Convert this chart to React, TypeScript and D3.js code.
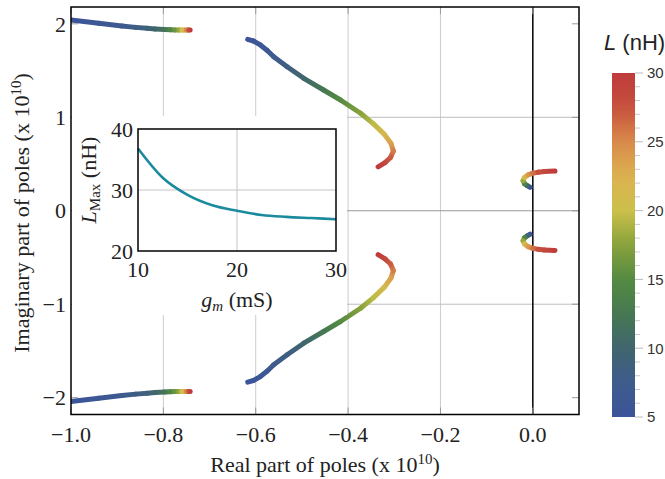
import React from 'react';
import * as d3 from 'd3';

// ---------- data ----------
const xTicks = [-1.0, -0.8, -0.6, -0.4, -0.2, 0.0];
const yTicks = [-2, -1, 0, 1, 2];
const xGrid = [-0.8, -0.6, -0.4, -0.2];
const yGrid = [-1, 1];
const cbTicks = [5, 10, 15, 20, 25, 30];
const cbMinor = [6, 7, 8, 9, 11, 12, 13, 14, 16, 17, 18, 19, 21, 22, 23, 24, 26, 27, 28, 29];

// pole loci in the upper half-plane: [Re, Im, L(nH)]; lower half = conjugates
const farBranch: [number, number, number][] = [
  [-1.0, 2.04, 5], [-0.94, 2.005, 6], [-0.89, 1.977, 7], [-0.86, 1.962, 8],
  [-0.835, 1.952, 9], [-0.818, 1.945, 10], [-0.797, 1.939, 12], [-0.785, 1.936, 14],
  [-0.775, 1.935, 16], [-0.766, 1.934, 18], [-0.76, 1.934, 20], [-0.755, 1.934, 22],
  [-0.75, 1.934, 25], [-0.745, 1.934, 28], [-0.742, 1.934, 30],
];
const midBranch: [number, number, number][] = [
  [-0.6174, 1.834, 5], [-0.605, 1.816, 5.5], [-0.59, 1.774, 6], [-0.575, 1.715, 6.6],
  [-0.561, 1.648, 7.2], [-0.532, 1.541, 8.4], [-0.496, 1.417, 10], [-0.453, 1.292, 12.5],
  [-0.4165, 1.185, 15], [-0.373, 1.043, 17.5], [-0.345, 0.93, 19.5], [-0.322, 0.82, 21.5],
  [-0.307, 0.72, 23.5], [-0.302, 0.64, 25.5], [-0.308, 0.57, 27], [-0.32, 0.515, 28.5],
  [-0.335, 0.47, 30],
];
const nearBranch: [number, number, number][] = [
  [-0.006, 0.251, 5], [-0.012, 0.268, 10], [-0.018, 0.29, 14], [-0.021, 0.322, 18],
  [-0.018, 0.355, 21], [-0.01, 0.385, 24], [0.0, 0.402, 26], [0.012, 0.413, 27.5],
  [0.025, 0.42, 28.5], [0.048, 0.424, 30],
];

// inset: L_Max vs g_m
const gmValues = [10, 12.5, 15, 17.5, 20, 22.5, 25, 27.5, 30];
const lMaxValues = [36.8, 32.0, 29.2, 27.5, 26.6, 25.9, 25.6, 25.4, 25.2];
const insetXTicks = [10, 20, 30];
const insetYTicks = [20, 30, 40];

// colour map (L -> colour)
const cStopL = [5, 7.5, 10, 12.5, 15, 17.5, 20, 22.5, 25, 27.5, 30];
const cStopC = ['#3c549a', '#3e5b8c', '#40666e', '#467852', '#548a42', '#88a23c',
  '#cbc04a', '#dcb250', '#d88a4a', '#c6503e', '#bf3b3b'];

// ---------- scales ----------
const xs = d3.scaleLinear().domain([-1, 0.1]).range([71, 579]);
const ys = d3.scaleLinear().domain([-2.18, 2.18]).range([414.5, 7]);
const ix = d3.scaleLinear().domain([10, 30]).range([138, 336]);
const iy = d3.scaleLinear().domain([20, 40]).range([251, 129]);
const cb = d3.scaleLinear().domain([5, 30]).range([417, 73]);
const color = d3.scaleLinear<string>().domain(cStopL).range(cStopC).interpolate(d3.interpolateRgb);

const SERIF = '"Liberation Serif", "Times New Roman", serif';
const SANS = '"Liberation Sans", Arial, sans-serif';
const FS = 22;
const fmt = (v: number) => (v < 0 ? '\u2212' : '') + Math.abs(v).toFixed(1);
const fmtI = (v: number) => (v < 0 ? '\u2212' : '') + Math.abs(v).toString();

function Branch({ pts, id, sign }: { pts: [number, number, number][]; id: string; sign: number }) {
  return (
    <g>
      {pts.slice(1).map((p, i) => {
        const a = pts[i];
        const x1 = xs(a[0]), y1 = ys(sign * a[1]), x2 = xs(p[0]), y2 = ys(sign * p[1]);
        const gid = `${id}-${i}`;
        return (
          <g key={i}>
            <linearGradient id={gid} gradientUnits="userSpaceOnUse" x1={x1} y1={y1} x2={x2} y2={y2}>
              <stop offset="0" stopColor={color(a[2])} />
              <stop offset="1" stopColor={color(p[2])} />
            </linearGradient>
            <line x1={x1} y1={y1} x2={x2} y2={y2} stroke={`url(#${gid})`} strokeWidth={5} strokeLinecap="round" />
          </g>
        );
      })}
    </g>
  );
}

export default function App() {
  const [x0, x1] = xs.range();
  const [y0, y1] = ys.range();
  const insetLine = d3.line<number>().x((_, i) => ix(gmValues[i])).y((d) => iy(d)).curve(d3.curveMonotoneX)(lMaxValues) || '';
  const cbStops = d3.range(0, 26).map((k) => 5 + k);

  return (
    <svg width={665} height={479} style={{ position: 'absolute', left: 0, top: 0, background: '#fff' }}>
      <defs>
        <clipPath id="plotClip">
          <rect x={x0} y={y1} width={x1 - x0} height={y0 - y1} />
        </clipPath>
        <linearGradient id="cbGrad" x1="0" y1="1" x2="0" y2="0">
          {cbStops.map((v) => (
            <stop key={v} offset={(v - 5) / 25} stopColor={color(v)} />
          ))}
        </linearGradient>
      </defs>
      <rect x={0} y={0} width={665} height={479} fill="#fff" />

      {/* grid */}
      {xGrid.map((v) => (
        <line key={'gx' + v} x1={xs(v)} x2={xs(v)} y1={y1} y2={y0} stroke="#cccccc" strokeWidth={1} />
      ))}
      {yGrid.map((v) => (
        <line key={'gy' + v} x1={x0} x2={x1} y1={ys(v)} y2={ys(v)} stroke="#bdbdbd" strokeWidth={1} />
      ))}
      <line x1={x0} x2={x1} y1={ys(0)} y2={ys(0)} stroke="#999" strokeWidth={1} />
      <line x1={xs(0)} x2={xs(0)} y1={y1} y2={y0} stroke="#000" strokeWidth={1.5} />

      {/* ticks on frame */}
      {xTicks.map((v) => (
        <g key={'tx' + v}>
          <line x1={xs(v)} x2={xs(v)} y1={y0} y2={y0 - 7} stroke="#999" />
          <line x1={xs(v)} x2={xs(v)} y1={y1} y2={y1 + 7} stroke="#999" />
        </g>
      ))}
      {yTicks.map((v) => (
        <g key={'ty' + v}>
          <line x1={x0} x2={x0 + 7} y1={ys(v)} y2={ys(v)} stroke="#999" />
          <line x1={x1} x2={x1 - 7} y1={ys(v)} y2={ys(v)} stroke="#999" />
        </g>
      ))}

      {/* pole loci */}
      <g clipPath="url(#plotClip)">
        <Branch pts={farBranch} id="fu" sign={1} />
        <Branch pts={farBranch} id="fl" sign={-1} />
        <Branch pts={midBranch} id="mu" sign={1} />
        <Branch pts={midBranch} id="ml" sign={-1} />
        <Branch pts={nearBranch} id="nu" sign={1} />
        <Branch pts={nearBranch} id="nl" sign={-1} />
      </g>

      {/* frame */}
      <rect x={x0} y={y1} width={x1 - x0} height={y0 - y1} fill="none" stroke="#000" strokeWidth={1.5} />

      {/* main tick labels */}
      {xTicks.map((v) => (
        <text key={'lx' + v} x={xs(v)} y={442} textAnchor="middle" fontFamily={SERIF} fontSize={FS} fill="#222">
          {fmt(v)}
        </text>
      ))}
      {yTicks.map((v) => (
        <text key={'ly' + v} x={66} y={ys(v)} dy="0.35em" textAnchor="end" fontFamily={SERIF} fontSize={FS} fill="#222">
          {fmtI(v)}
        </text>
      ))}
      <text x={325} y={472} textAnchor="middle" fontFamily={SERIF} fontSize={FS} fill="#222">
        Real part of poles (x 10<tspan dy={-8} fontSize={15}>10</tspan><tspan dy={8}>)</tspan>
      </text>
      <text transform={`translate(29,213) rotate(-90)`} textAnchor="middle" fontFamily={SERIF} fontSize={FS} fill="#222">
        Imaginary part of poles (x 10<tspan dy={-8} fontSize={15}>10</tspan><tspan dy={8}>)</tspan>
      </text>

      {/* inset */}
      <rect x={72} y={116} width={275} height={199} fill="#fff" />
      <line x1={ix(20)} x2={ix(20)} y1={iy(40)} y2={iy(20)} stroke="#c4c4c4" strokeWidth={1} />
      <line x1={ix(10)} x2={ix(30)} y1={iy(30)} y2={iy(30)} stroke="#c4c4c4" strokeWidth={1} />
      <path d={insetLine} fill="none" stroke="#1a8a9e" strokeWidth={2.6} />
      <rect x={ix(10)} y={iy(40)} width={ix(30) - ix(10)} height={iy(20) - iy(40)} fill="none" stroke="#000" strokeWidth={1.5} />
      {insetXTicks.map((v) => (
        <text key={'ix' + v} x={ix(v)} y={277} textAnchor="middle" fontFamily={SERIF} fontSize={FS} fill="#222">
          {v}
        </text>
      ))}
      {insetYTicks.map((v) => (
        <text key={'iy' + v} x={133} y={iy(v)} dy="0.35em" textAnchor="end" fontFamily={SERIF} fontSize={FS} fill="#222">
          {v}
        </text>
      ))}
      <text x={237} y={307} textAnchor="middle" fontFamily={SERIF} fontSize={FS} fill="#222">
        <tspan fontStyle="italic">g</tspan>
        <tspan fontStyle="italic" fontSize={15} dy={4}>m</tspan>
        <tspan dy={-4}> (mS)</tspan>
      </text>
      <text transform={`translate(96,180) rotate(-90)`} textAnchor="middle" fontFamily={SERIF} fontSize={FS} fill="#222">
        <tspan fontStyle="italic">L</tspan>
        <tspan fontSize={15} dy={4}>Max</tspan>
        <tspan dy={-4}> (nH)</tspan>
      </text>

      {/* colour bar */}
      <rect x={612} y={cb(30)} width={23} height={cb(5) - cb(30)} fill="url(#cbGrad)" />
      {cbMinor.map((v) => (
        <line key={'cm' + v} x1={635} x2={640} y1={cb(v)} y2={cb(v)} stroke="#c8c8c8" />
      ))}
      {cbTicks.map((v) => (
        <g key={'ct' + v}>
          <line x1={635} x2={643} y1={cb(v)} y2={cb(v)} stroke="#bbb" />
          <text x={647} y={cb(v)} dy="0.36em" fontFamily={SANS} fontSize={15} fill="#333">
            {v}
          </text>
        </g>
      ))}
      <text x={604} y={50} fontFamily={SANS} fontSize={22} fill="#222">
        <tspan fontStyle="italic">L</tspan> (nH)
      </text>
    </svg>
  );
}
